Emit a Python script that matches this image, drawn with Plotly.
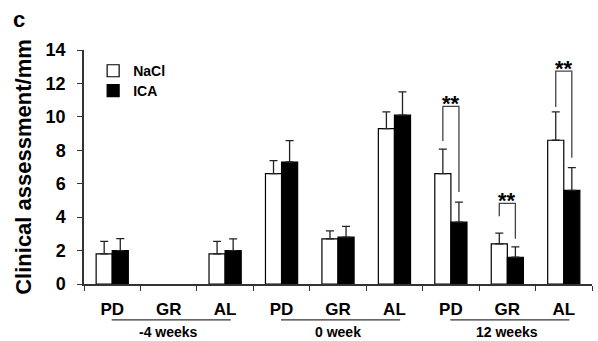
import plotly.graph_objects as go

# ---- data ----
categories = ["PD", "GR", "AL", "PD", "GR", "AL", "PD", "GR", "AL"]
groups = ["-4 weeks", "0 week", "12 weeks"]
nacl = [1.8, None, 1.8, 6.6, 2.7, 9.3, 6.6, 2.4, 8.6]
nacl_err = [0.75, None, 0.75, 0.78, 0.48, 1.0, 1.47, 0.64, 1.7]
ica = [2.0, None, 2.0, 7.3, 2.8, 10.1, 3.7, 1.6, 5.6]
ica_err = [0.72, None, 0.7, 1.28, 0.65, 1.4, 1.2, 0.62, 1.36]
y_ticks = [0, 2, 4, 6, 8, 10, 12, 14]

# significance brackets (category index, left leg bottom, top, right leg bottom)
sig_idx = [6, 7, 8]
sig_left = [8.55, 4.06, 10.59]
sig_top = [10.63, 4.82, 12.74]
sig_right = [5.51, 2.7, 7.56]
sig_text = ["**", "**", "**"]

x = list(range(len(categories)))
bargap = 0.43
half = (1 - bargap) / 4  # center offset of each bar in a group of 2

FONT = "Liberation Sans, Arial, sans-serif"

fig = go.Figure()
fig.add_trace(go.Bar(
    x=x, y=nacl, name="NaCl", legend="legend",
    marker=dict(color="white", line=dict(color="black", width=1.2)),
    error_y=dict(type="data", array=nacl_err, arrayminus=[0] * len(x), symmetric=False,
                 color="#222", thickness=1.3, width=4),
))
fig.add_trace(go.Bar(
    x=x, y=ica, name="ICA", legend="legend2",
    marker=dict(color="black", line=dict(color="black", width=1.2)),
    error_y=dict(type="data", array=ica_err, arrayminus=[0] * len(x), symmetric=False,
                 color="#222", thickness=1.3, width=4),
))

shapes = []
annotations = []
for i, lb, tp, rb, t in zip(sig_idx, sig_left, sig_top, sig_right, sig_text):
    xl, xr = i - half, i + half
    shapes.append(dict(type="path", xref="x", yref="y",
                       path=f"M {xl},{lb} L {xl},{tp} L {xr},{tp} L {xr},{rb}",
                       line=dict(color="#444", width=1.3)))
    annotations.append(dict(x=i, y=tp, xref="x", yref="y", text=t, showarrow=False,
                            yanchor="middle", yshift=3,
                            font=dict(family=FONT, size=22, color="black", weight="bold")))

for g, name in enumerate(groups):
    start = g * 3
    shapes.append(dict(type="line", xref="x", yref="paper",
                       x0=start - 0.01, x1=start + 2.1, y0=-0.1535, y1=-0.1535,
                       line=dict(color="#333", width=1.2)))
    annotations.append(dict(x=start + 1, y=-0.203, xref="x", yref="paper", text=name,
                            showarrow=False, yanchor="middle",
                            font=dict(family=FONT, size=14, color="black", weight="bold")))

annotations.append(dict(x=-0.127, y=1.132, xref="paper", yref="paper", text="c",
                        showarrow=False, xanchor="center", yanchor="middle",
                        font=dict(family=FONT, size=22, color="black", weight="bold")))

legend_style = dict(xanchor="left", yanchor="middle", bgcolor="rgba(0,0,0,0)",
                    font=dict(family=FONT, size=14, color="black", weight="bold"))

fig.update_layout(
    width=598, height=341,
    margin=dict(l=84, r=6, t=49.5, b=57, autoexpand=False),
    paper_bgcolor="white", plot_bgcolor="white",
    barmode="group", bargap=bargap, bargroupgap=0,
    font=dict(family=FONT, color="black"),
    showlegend=True,
    legend=dict(x=0.018, y=0.9096, **legend_style),
    legend2=dict(x=0.018, y=0.8243, **legend_style),
    shapes=shapes, annotations=annotations,
)
fig.update_xaxes(
    range=[-0.5, 8.5], tickmode="array", tickvals=x, ticktext=categories,
    ticks="", showline=True, linecolor="#333", linewidth=1.5, automargin=False,
    tickfont=dict(family=FONT, size=17, color="black", weight="bold"),
    ticklabelstandoff=9, showgrid=False, zeroline=False,
    minor=dict(tickmode="linear", tick0=-0.5, dtick=1, ticks="outside", ticklen=5,
               tickcolor="#333", tickwidth=1.3, showgrid=False),
)
fig.update_yaxes(
    range=[0, 14], tickmode="array", tickvals=y_ticks, automargin=False,
    ticks="outside", ticklen=5, tickcolor="#333", tickwidth=1.3,
    showline=True, linecolor="#333", linewidth=1.5, showgrid=False, zeroline=False,
    tickfont=dict(family=FONT, size=18, color="black", weight="bold"),
    ticklabelstandoff=8,
    title=dict(text="Clinical assessment/mm", standoff=8,
               font=dict(family=FONT, size=22, color="black", weight="bold")),
)

fig.write_html("out.html", config={"displayModeBar": False},
               post_script="document.body.style.margin='0';document.body.style.overflow='hidden';")
